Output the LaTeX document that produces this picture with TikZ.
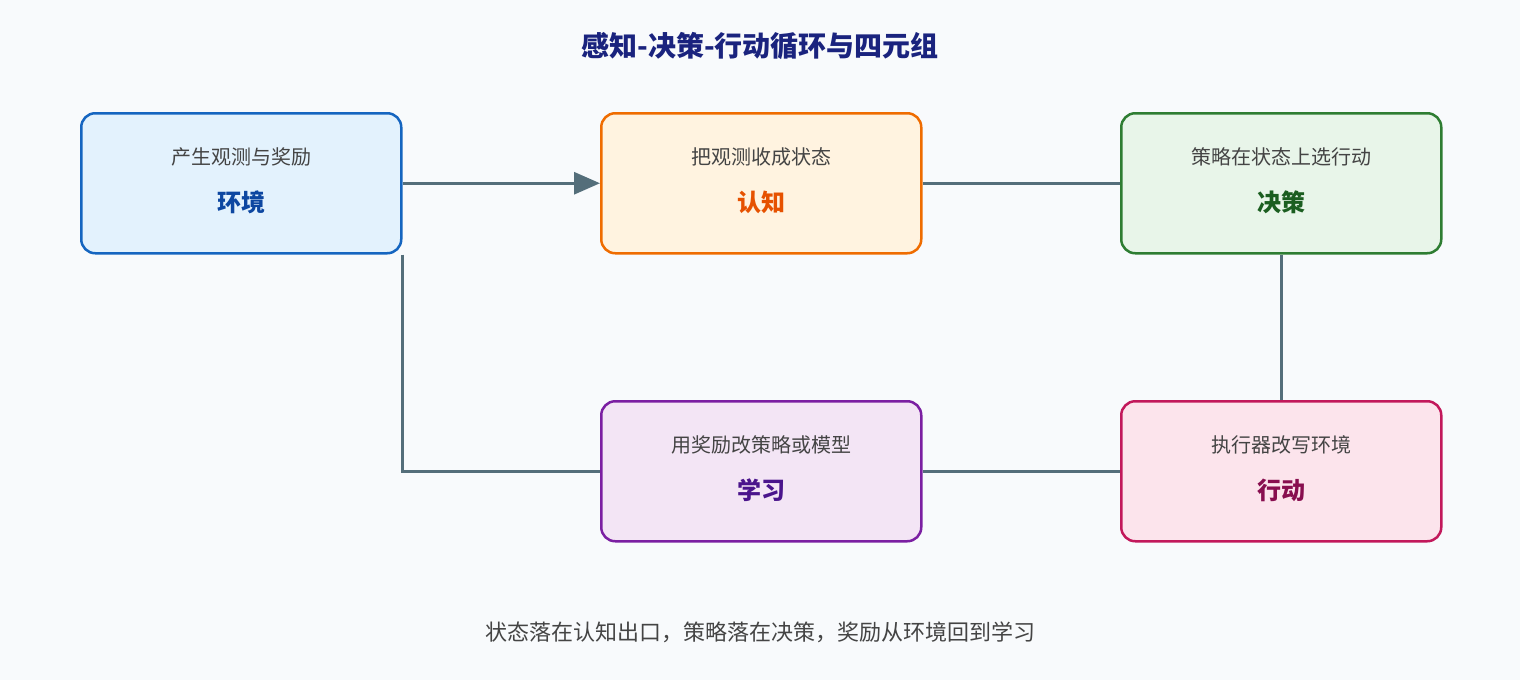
\documentclass[tikz,border=0pt]{standalone}
\usepackage{fontspec}
\setmainfont{Noto Sans CJK SC}
\usetikzlibrary{arrows.meta}
\definecolor{bg}{HTML}{F8FAFC}
\definecolor{ln}{HTML}{546E7A}
\definecolor{tt}{HTML}{1A237E}
\definecolor{sub}{HTML}{444444}
\definecolor{f1}{HTML}{E3F2FD}\definecolor{s1}{HTML}{1565C0}\definecolor{t1}{HTML}{0D47A1}
\definecolor{f2}{HTML}{FFF3E0}\definecolor{s2}{HTML}{EF6C00}\definecolor{t2}{HTML}{E65100}
\definecolor{f3}{HTML}{E8F5E9}\definecolor{s3}{HTML}{2E7D32}\definecolor{t3}{HTML}{1B5E20}
\definecolor{f4}{HTML}{F3E5F5}\definecolor{s4}{HTML}{7B1FA2}\definecolor{t4}{HTML}{4A148C}
\definecolor{f5}{HTML}{FCE4EC}\definecolor{s5}{HTML}{C2185B}\definecolor{t5}{HTML}{880E4F}
\tikzset{
 box/.style={draw, line width=2.5pt, rounded corners=14pt, minimum width=320pt, minimum height=140pt, anchor=north west, inner sep=0pt},
 hd/.style={font=\fontsize{24}{28}\selectfont\bfseries},
 sb/.style={font=\fontsize{20}{24}\selectfont, text=sub},
 con/.style={draw=ln, line width=3pt},
}
\newcommand{\mybox}[6]{%
 \node[box, draw=s#4, fill=f#4] (#1) at (#2,#3) {};
 \node[hd, text=t#4] (#1h) at ([yshift=-19pt]#1.center) {#5};
 \node[sb] (#1s) at ([yshift=26pt]#1.center) {#6};
}
\begin{document}
\begin{tikzpicture}[x=1pt,y=-1pt]
\fill[bg] (0,0) rectangle (1520,680);
\useasboundingbox (0,0) rectangle (1520,680);
\node[font=\fontsize{28}{32}\selectfont\bfseries, text=tt] (title) at (760,46) {感知-决策-行动循环与四元组};
\mybox{env}{80}{112}{1}{环境}{产生观测与奖励}
\mybox{cog}{600}{112}{2}{认知}{把观测收成状态}
\mybox{dec}{1120}{112}{3}{决策}{策略在状态上选行动}
\mybox{lrn}{600}{400}{4}{学习}{用奖励改策略或模型}
\mybox{act}{1120}{400}{5}{行动}{执行器改写环境}
\draw[con, -{Triangle[length=26pt,width=22pt]}] (env.east) -- (cog.west);
\draw[con] (cog.east) -- (dec.west);
\draw[con] (dec.south) -- (act.north);
\draw[con] (act.west) -- (lrn.west -| lrn.east);
\draw[con] (env.south east) |- (lrn.west);
\node[font=\fontsize{22}{26}\selectfont, text=sub] (foot) at (760,632) {状态落在认知出口，策略落在决策，奖励从环境回到学习};
\end{tikzpicture}
\end{document}
